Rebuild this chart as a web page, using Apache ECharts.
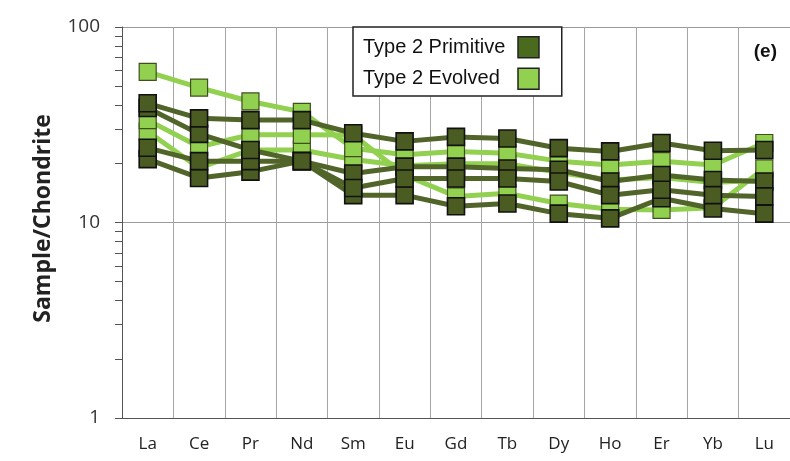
<!DOCTYPE html>
<html>
<head>
<meta charset="utf-8">
<script src="https://cdn.jsdelivr.net/npm/echarts@6/dist/echarts.min.js"></script>
<style>
  html, body { margin: 0; padding: 0; background: #fff; }
  #chart { width: 790px; height: 461px; }
</style>
</head>
<body>
<div id="chart"></div>
<script>
// REE elements along the x axis
const elements = ['La', 'Ce', 'Pr', 'Nd', 'Sm', 'Eu', 'Gd', 'Tb', 'Dy', 'Ho', 'Er', 'Yb', 'Lu'];

// Chondrite-normalised patterns, Type 2 primitive samples
const primitiveA = [40.7, 34.1, 33.4, 33.4, 28.6, 26.0, 27.4, 26.9, 24.0, 23.1, 25.5, 23.3, 23.5];
const primitiveB = [38.5, 28.4, 23.5, 20.6, 15.0, 16.8, 16.8, 16.8, 16.2, 13.8, 14.7, 13.8, 13.6];
const primitiveC = [24.1, 20.6, 20.6, 20.6, 17.8, 19.3, 19.3, 18.9, 18.6, 16.2, 17.5, 16.5, 16.2];
const primitiveD = [21.1, 16.9, 18.2, 20.6, 13.8, 13.8, 12.1, 12.5, 11.1, 10.5, 13.3, 11.8, 11.1];

// Type 2 evolved samples
const evolvedA = [59.0, 49.0, 41.6, 36.8, 24.0, 22.2, 23.1, 22.6, 20.6, 19.7, 20.6, 19.7, 25.5];
const evolvedB = [33.4, 24.4, 28.1, 28.1, 28.0, 17.5, 13.6, 14.1, 12.5, 11.7, 11.6, 11.9, 18.9];
const evolvedC = [29.2, 19.0, 23.5, 23.5, 21.0, 19.5, 20.0, 20.0, 18.0, 16.5, 17.0, 16.0, 16.5];

// y-axis tick labels and tick positions (log scale, 1..100)
const yLabels = [1, 10, 100];
const yTicks = [1, 2, 3, 4, 5, 6, 7, 8, 9, 10, 20, 30, 40, 50, 60, 70, 80, 90, 100];

const PRIMITIVE = 'Type 2 Primitive';
const EVOLVED = 'Type 2 Evolved';
const darkLine = '#51652a';
const darkFill = '#4a5c22';
const lightGreen = '#92d050';

function makeSeries(name, values, line, fill, border, borderWidth) {
  return {
    name: name,
    type: 'line',
    yAxisIndex: 0,
    data: values,
    symbol: 'rect',
    symbolSize: 17,
    lineStyle: { color: line, width: 5 },
    itemStyle: { color: fill, borderColor: border, borderWidth: borderWidth },
    emphasis: { disabled: true },
    animation: false
  };
}

const series = [
  makeSeries(EVOLVED, evolvedC, lightGreen, lightGreen, '#3f4f1e', 1.2),
  makeSeries(EVOLVED, evolvedB, lightGreen, lightGreen, '#3f4f1e', 1.2),
  makeSeries(EVOLVED, evolvedA, lightGreen, lightGreen, '#3f4f1e', 1.2),
  makeSeries(PRIMITIVE, primitiveD, darkLine, darkFill, '#111', 1.6),
  makeSeries(PRIMITIVE, primitiveC, darkLine, darkFill, '#111', 1.6),
  makeSeries(PRIMITIVE, primitiveB, darkLine, darkFill, '#111', 1.6),
  makeSeries(PRIMITIVE, primitiveA, darkLine, darkFill, '#111', 1.6)
];

const chart = echarts.init(document.getElementById('chart'), null, { renderer: 'canvas' });

chart.setOption({
  backgroundColor: '#fff',
  animation: false,
  title: {
    text: '(e)',
    right: 8,
    top: 37,
    textStyle: { fontSize: 19, fontWeight: 'bold', color: '#111', fontFamily: 'Liberation Sans' }
  },
  legend: {
    orient: 'vertical',
    left: 353,
    top: 27,
    align: 'right',
    backgroundColor: '#fff',
    borderColor: '#222',
    borderWidth: 1.5,
    borderRadius: 0,
    padding: [9, 22, 6, 10],
    itemWidth: 21,
    itemHeight: 21,
    itemGap: 9,
    selectedMode: false,
    formatter: function (name) { return '{t|' + name + '}'; },
    textStyle: {
      color: '#111',
      fontSize: 20,
      fontFamily: 'Liberation Sans',
      rich: {
        t: { width: 150, align: 'left', fontSize: 20, color: '#111', fontFamily: 'Liberation Sans' }
      }
    },
    data: [
      { name: PRIMITIVE, icon: 'rect', itemStyle: { color: '#4a6a1e', borderColor: '#222', borderWidth: 1.5 } },
      { name: EVOLVED, icon: 'rect', itemStyle: { color: lightGreen, borderColor: '#222', borderWidth: 1.5 } }
    ]
  },
  grid: {
    left: 122,
    top: 27,
    width: 671,
    bottom: 43,
    containLabel: false
  },
  xAxis: {
    type: 'category',
    data: elements,
    boundaryGap: true,
    axisLine: { show: true, lineStyle: { color: '#555', width: 1 } },
    axisTick: { show: false },
    axisLabel: { fontSize: 17, color: '#222', margin: 18, fontFamily: 'Open Sans', interval: 0 },
    splitLine: { show: true, interval: 0, lineStyle: { color: '#a6a6a6', width: 1 } }
  },
  yAxis: [
    {
      // main scale: labels, name, major and minor ticks
      type: 'log',
      logBase: 10,
      min: 1,
      max: 100,
      position: 'left',
      name: 'Sample/Chondrite',
      nameLocation: 'middle',
      nameGap: 67,
      nameTextStyle: { fontSize: 23, fontWeight: 'bold', color: '#222', fontFamily: 'Open Sans', padding: [0, 0, 0, 8] },
      axisLine: { show: true, onZero: false, lineStyle: { color: '#555', width: 1 } },
      axisTick: { show: true, length: 7, lineStyle: { color: '#555' }, customValues: yTicks },
      axisLabel: { fontSize: 19, color: '#333', margin: 22, fontFamily: 'Open Sans', customValues: yLabels },
      splitLine: { show: false }
    },
    {
      // gridlines at the decades only
      type: 'log',
      logBase: 10,
      min: 1,
      max: 100,
      position: 'left',
      axisLine: { show: false },
      axisTick: { show: false },
      axisLabel: { show: false },
      splitLine: { show: true, lineStyle: { color: '#9a9a9a', width: 1 } }
    }
  ],
  series: series
});
</script>
</body>
</html>
